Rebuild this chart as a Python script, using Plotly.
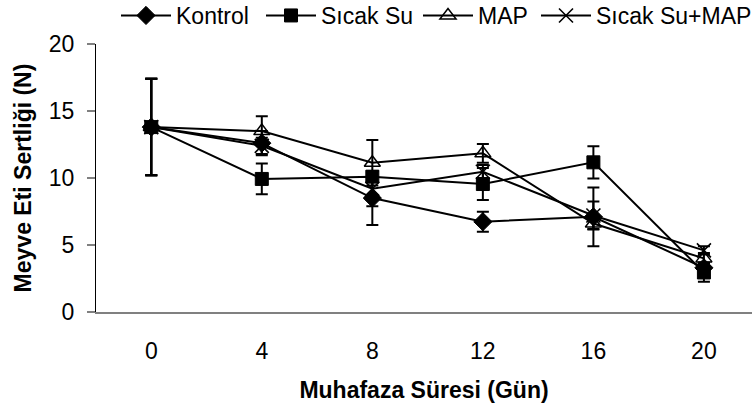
import plotly.graph_objects as go

days = [0, 4, 8, 12, 16, 20]
series_names = ["Kontrol", "Sıcak Su", "MAP", "Sıcak Su+MAP"]

kontrol = [13.8, 12.6, 8.5, 6.74, 7.1, 3.3]
kontrol_err = [3.6, 0.9, 2.0, 0.75, 2.2, 0.4]

sicak_su = [13.8, 9.93, 10.1, 9.55, 11.17, 2.95]
sicak_su_err = [3.6, 1.15, 0.4, 1.2, 1.2, 0.7]

map_ = [13.8, 13.5, 11.14, 11.84, 6.6, 4.0]
map_err = [3.6, 1.1, 1.7, 0.7, 0.4, 0.4]

sicak_su_map = [13.8, 12.4, 9.2, 10.47, 7.2, 4.6]
sicak_su_map_err = [3.6, 0.6, 1.3, 0.5, 1.05, 0.3]

y_ticks = [0, 5, 10, 15, 20]

FONT = "Liberation Sans, Arial, sans-serif"

values = [kontrol, sicak_su, map_, sicak_su_map]
errors = [kontrol_err, sicak_su_err, map_err, sicak_su_map_err]
markers = [
    dict(symbol="diamond", size=14, color="black", line=dict(color="black", width=1)),
    dict(symbol="square", size=13, color="black", line=dict(color="black", width=1)),
    dict(symbol="triangle-up-open", size=14, color="black", line=dict(color="black", width=1.5)),
    dict(symbol="x-thin-open", size=14, color="black", line=dict(color="black", width=1.6)),
]

# legend entry start positions (px) for each series
legend_ids = ["legend", "legend2", "legend3", "legend4"]
legend_px = [121, 266, 423, 541]

W, H = 752, 408
ML, MR, MT, MB = 96, 0, 44, 96
PW = W - ML - MR
PH = H - MT - MB

fig = go.Figure()
for name, vals, errs, mk, lid in zip(series_names, values, errors, markers, legend_ids):
    fig.add_trace(go.Scatter(
        x=days, y=vals, name=name, mode="lines+markers",
        line=dict(color="black", width=2),
        marker=mk, legend=lid,
        error_y=dict(type="data", array=errs, visible=True,
                     color="black", thickness=2, width=6),
    ))

legend_common = dict(
    orientation="h", xref="paper", yref="paper",
    xanchor="left", y=1 + 50 / PH, yanchor="top",
    font=dict(family=FONT, size=23, color="black"),
    itemwidth=50, bgcolor="rgba(0,0,0,0)",
)
legends = {lid: dict(legend_common, x=(px - 5 - ML) / PW)
           for lid, px in zip(legend_ids, legend_px)}

fig.update_layout(
    width=W, height=H,
    margin=dict(l=ML, r=MR, t=MT, b=MB, autoexpand=False),
    paper_bgcolor="white", plot_bgcolor="white",
    font=dict(family=FONT, size=23, color="black"),
    showlegend=True,
    **legends,
)

fig.update_xaxes(
    range=[-2, 21.74],
    tickmode="array", tickvals=days, ticktext=[str(d) for d in days],
    showgrid=False, zeroline=False,
    showline=True, linecolor="#808080", linewidth=1.5,
    ticks="", ticklabelstandoff=18,
    tickfont=dict(family=FONT, size=23, color="black"),
    title=dict(text="<b>Muhafaza Süresi (Gün)</b>", standoff=19,
               font=dict(family=FONT, size=23, color="black")),
)

fig.update_yaxes(
    range=[0, 20],
    tickmode="array", tickvals=y_ticks,
    showgrid=False, zeroline=False,
    showline=True, linecolor="black", linewidth=1.2,
    ticks="outside", ticklen=8, tickcolor="#808080", tickwidth=1.5,
    ticklabelstandoff=8,
    tickfont=dict(family=FONT, size=23, color="black"),
    title=dict(text="<b>Meyve Eti Sertliği (N)</b>", standoff=10,
               font=dict(family=FONT, size=23, color="black")),
)

fig.write_html("out.html")
